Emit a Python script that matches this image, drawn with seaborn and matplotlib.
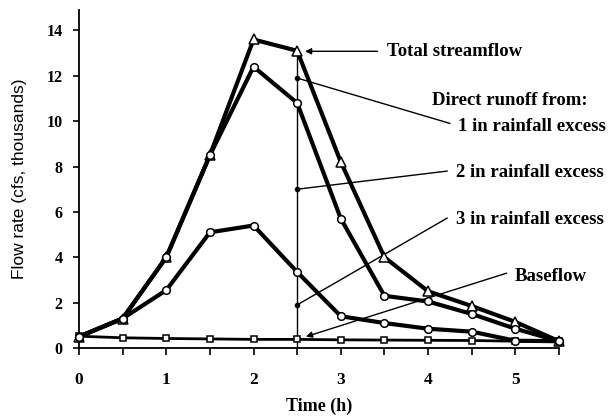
import numpy as np
import pandas as pd
import matplotlib
matplotlib.use("Agg")
import matplotlib.pyplot as plt
import seaborn as sns

# ---- data ----
time_h = [0, 0.5, 1, 1.5, 2, 2.5, 3, 3.5, 4, 4.5, 5, 5.5]
total_streamflow = [0.5, 1.3, 4.0, 8.5, 13.6, 13.1, 8.2, 4.0, 2.5, 1.85, 1.15, 0.3]
runoff_upper = [0.5, 1.3, 4.0, 8.5, 12.4, 10.8, 5.7, 2.3, 2.05, 1.5, 0.85, 0.3]
runoff_lower = [0.5, 1.3, 2.55, 5.1, 5.4, 3.35, 1.4, 1.1, 0.85, 0.72, 0.32, 0.3]
baseflow = [0.52, 0.45, 0.42, 0.4, 0.38, 0.38, 0.36, 0.35, 0.34, 0.33, 0.3, 0.3]

marker_time = 2.5
marker_dots = [11.9, 7.0, 1.9]          # dots on the vertical reference line
vline_top = 13.1

x_ticks = [0, 1, 2, 3, 4, 5]
x_tick_labels = ["0", "1", "2", "3", "4", "5"]
x_minor_ticks = [0.5, 1.5, 2.5, 3.5, 4.5, 5.5]
y_ticks = [0, 2, 4, 6, 8, 10, 12, 14]
y_tick_labels = ["0", "2", "4", "6", "8", "10", "12", "14"]

label_total = "Total streamflow"
label_direct = "Direct runoff from:"
label_1in = "1 in rainfall excess"
label_2in = "2 in rainfall excess"
label_3in = "3 in rainfall excess"
label_base = "Baseflow"
x_label = "Time (h)"
y_label = "Flow rate (cfs, thousands)"

# ---- styling ----
sns.set_style("ticks")
plt.rcParams["font.family"] = ["Liberation Serif", "DejaVu Serif"]
plt.rcParams["text.color"] = "black"
plt.rcParams["axes.labelcolor"] = "black"
plt.rcParams["xtick.color"] = "black"
plt.rcParams["ytick.color"] = "black"

fig = plt.figure(figsize=(6.14, 4.16), dpi=100)
ax = fig.add_axes([79 / 614, 1 - 348 / 416, (559 - 79) / 614, (348 - 10) / 416])

df = pd.DataFrame({
    "time": time_h,
    "total": total_streamflow,
    "upper": runoff_upper,
    "lower": runoff_lower,
    "base": baseflow,
})

common = dict(color="black", markerfacecolor="white", markeredgecolor="black",
              markeredgewidth=1.1, clip_on=False, ax=ax)

sns.lineplot(data=df, x="time", y="base", marker="s", markersize=5, linewidth=2.0,
             zorder=3, **common)
sns.lineplot(data=df, x="time", y="total", marker="^", markersize=6.5, linewidth=3.0,
             zorder=4, **common)
sns.lineplot(data=df, x="time", y="lower", marker="o", markersize=5.5, linewidth=3.0,
             zorder=5, **common)
sns.lineplot(data=df, x="time", y="upper", marker="o", markersize=5.5, linewidth=3.0,
             zorder=6, **common)

# vertical reference line with dots
ax.plot([marker_time, marker_time], [0, vline_top], color="black", lw=1.0, zorder=2)
ax.plot([marker_time] * len(marker_dots), marker_dots, "o", color="black",
        markersize=3, zorder=7)

txt = dict(fontsize=13.5, fontweight="bold", va="center", ha="left",
           family=["Liberation Serif", "DejaVu Serif"])
line_kw = dict(color="black", lw=1.0)

# Total streamflow
ax.annotate("", xy=(2.59, 13.08), xytext=(3.42, 13.08),
            arrowprops=dict(arrowstyle="-|>", color="black", lw=1.0, mutation_scale=9,
                            shrinkA=0, shrinkB=0), annotation_clip=False)
ax.text(3.53, 13.08, label_total, **txt)

# Direct runoff labels
ax.text(4.05, 10.9, label_direct, **txt)
ax.plot([marker_time, 4.25], [marker_dots[0], 9.9], clip_on=False, **line_kw)
ax.text(4.34, 9.75, label_1in, **txt)
ax.plot([marker_time, 4.22], [marker_dots[1], 7.8], clip_on=False, **line_kw)
ax.text(4.32, 7.72, label_2in, **txt)
ax.plot([marker_time, 4.22], [marker_dots[2], 5.73], clip_on=False, **line_kw)
ax.text(4.32, 5.65, label_3in, **txt)

# Baseflow
ax.annotate("", xy=(2.6, 0.5), xytext=(4.9, 3.3),
            arrowprops=dict(arrowstyle="-|>", color="black", lw=1.0, mutation_scale=9,
                            shrinkA=0, shrinkB=0), annotation_clip=False)
ax.text(4.99, 3.13, label_base, **txt)

# axes
ax.set_xlim(0, 5.5)
ax.set_ylim(0, 14.9)
sns.despine(ax=ax)
for s in ["left", "bottom"]:
    ax.spines[s].set_linewidth(1.3)
    ax.spines[s].set_color("black")

ax.set_xticks(x_ticks)
ax.set_xticklabels(x_tick_labels)
ax.set_xticks(x_minor_ticks, minor=True)
ax.set_yticks(y_ticks)
ax.set_yticklabels(y_tick_labels)
ax.tick_params(axis="x", which="both", direction="out", length=5, width=1.2,
               color="black", pad=12, labelsize=12.5)
ax.tick_params(axis="y", which="both", direction="out", length=4, width=1.2,
               color="black", pad=8, labelsize=11.5)
for lab in ax.get_xticklabels() + ax.get_yticklabels():
    lab.set_fontweight("bold")

ax.set_xlabel(x_label, fontsize=13, fontweight="bold", labelpad=7)
ax.set_ylabel(y_label, fontsize=12.5, family=["Liberation Sans", "DejaVu Sans"],
              labelpad=14)

fig.savefig("out.png", dpi=100)
